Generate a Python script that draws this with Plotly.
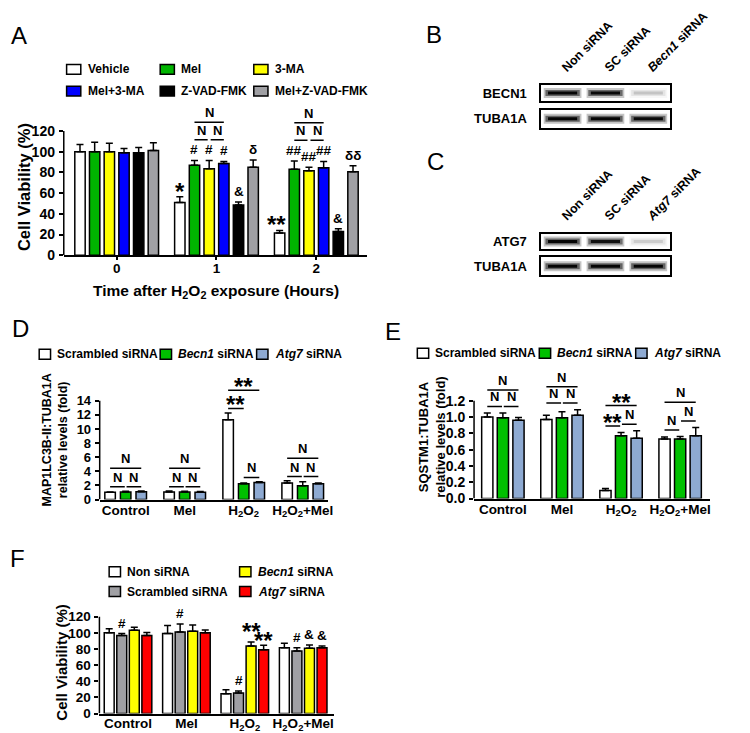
import plotly.graph_objects as go

W, H = 750, 733
FONT = "Liberation Sans, Arial, sans-serif"

# ---------------- A: cell viability after H2O2 (%) ----------------
a_hours = [0, 1, 2]
a_names = ["Vehicle", "Mel", "3-MA", "Mel+3-MA", "Z-VAD-FMK", "Mel+Z-VAD-FMK"]
a_colors = ["#ffffff", "#00b400", "#ffff00", "#0000ff", "#000000", "#a0a0a4"]
a_vehicle = [100, 51, 21.5]
a_mel = [100, 87, 83]
a_3ma = [100, 83.5, 81.5]
a_mel_3ma = [99, 88.5, 84.5]
a_zvad = [99, 48.5, 23]
a_mel_zvad = [101, 85, 80.5]
a_vehicle_sd = [7, 5.5, 2.5]
a_mel_sd = [9, 4.5, 8]
a_3ma_sd = [8, 8, 3.5]
a_mel_3ma_sd = [4, 2, 6]
a_zvad_sd = [5, 3, 2.5]
a_mel_zvad_sd = [7.5, 7, 6]

# ---------------- B / C: western blot band intensity (0-1) ----------------
b_lanes = ["Non siRNA", "SC siRNA", "<i>Becn1</i> siRNA"]
b_becn1 = [1.0, 0.95, 0.15]
b_tuba1a = [1.0, 1.0, 0.95]
c_lanes = ["Non siRNA", "SC siRNA", "<i>Atg7</i> siRNA"]
c_atg7 = [1.0, 0.9, 0.12]
c_tuba1a = [1.0, 1.0, 1.0]

# ---------------- D / E / F ----------------
treatments = ["Control", "Mel", "H<sub>2</sub>O<sub>2</sub>", "H<sub>2</sub>O<sub>2</sub>+Mel"]
sirna3 = ["Scrambled siRNA", "<i>Becn1</i> siRNA", "<i>Atg7</i> siRNA"]
sirna3_colors = ["#ffffff", "#00c000", "#8eaad2"]

d_scr = [1.03, 1.07, 11.3, 2.34]
d_becn1 = [1.07, 1.07, 2.24, 1.96]
d_atg7 = [1.12, 1.03, 2.43, 2.24]
d_scr_sd = [0.05, 0.15, 0.95, 0.32]
d_becn1_sd = [0.1, 0.1, 0.1, 0.56]
d_atg7_sd = [0.1, 0.12, 0.1, 0.1]

e_scr = [1.0, 0.97, 0.10, 0.73]
e_becn1 = [0.99, 0.99, 0.77, 0.73]
e_atg7 = [0.96, 1.02, 0.74, 0.77]
e_scr_sd = [0.05, 0.05, 0.025, 0.025]
e_becn1_sd = [0.06, 0.075, 0.04, 0.03]
e_atg7_sd = [0.035, 0.07, 0.09, 0.1]

sirna4 = ["Non siRNA", "Scrambled siRNA", "<i>Becn1</i> siRNA", "<i>Atg7</i> siRNA"]
sirna4_colors = ["#ffffff", "#a0a0a4", "#ffff00", "#ff0000"]
f_non = [100, 99, 24.5, 81.5]
f_scr = [96.5, 101, 25.5, 77.5]
f_becn1 = [103, 102, 83.5, 81]
f_atg7 = [96.5, 100, 79, 81.5]
f_non_sd = [5, 10, 5, 5.5]
f_scr_sd = [2.5, 10, 2.5, 4]
f_becn1_sd = [4, 7.5, 5, 4]
f_atg7_sd = [4, 3.5, 5.5, 2]


fig = go.Figure()
annos = []
shapes = []


def px_x(p):
    return p / W


def px_y(p):
    return 1 - p / H


def cx(g, i, n, step):
    return g + (i - (n - 1) / 2) * step


def add_bars(xa, ya, cats, means, sds, names, colors, step, width):
    n = len(means)
    for i in range(n):
        fig.add_trace(go.Bar(
            x=cats, y=means[i], name=names[i], showlegend=False,
            width=width, offset=(i - (n - 1) / 2) * step - width / 2,
            marker=dict(color=colors[i], line=dict(color="black", width=1.5)),
            error_y=dict(type="data", array=sds[i], arrayminus=[0] * len(cats),
                         symmetric=False, color="black", thickness=1.5, width=3.5),
            xaxis=xa, yaxis=ya))
    return [[m + s for m, s in zip(means[i], sds[i])] for i in range(n)]


def text(xa, ya, x, y, s, size=13, yshift=1, xshift=0):
    annos.append(dict(xref=xa, yref=ya, x=x, y=y, text=s, showarrow=False,
                      xanchor="center", yanchor="bottom", yshift=yshift, xshift=xshift,
                      font=dict(size=size)))


def star(xa, ya, x, y, s, yshift=-10, xshift=0):
    text(xa, ya, x, y, s, 24, yshift, xshift)


def bracket(xa, ya, x0, x1, y, s="N"):
    shapes.append(dict(type="line", xref=xa, yref=ya, x0=x0, x1=x1, y0=y, y1=y,
                       line=dict(color="black", width=1.5)))
    if s.startswith("*"):
        text(xa, ya, (x0 + x1) / 2, y, s, 24, -12)
    else:
        text(xa, ya, (x0 + x1) / 2, y, s, 13, 0)


def yline(xa, ya, top):
    shapes.append(dict(type="line", xref=xa + " domain", yref=ya, x0=0, x1=0, y0=0, y1=top,
                       line=dict(color="black", width=1.5)))


def legend_row(labels, colors, boxes, y_px, box_w=12):
    for label, color, b in zip(labels, colors, boxes):
        shapes.append(dict(type="rect", xref="paper", yref="paper",
                           x0=px_x(b), x1=px_x(b + box_w), y0=px_y(y_px + 5), y1=px_y(y_px - 5),
                           fillcolor=color, line=dict(color="black", width=1.5)))
        annos.append(dict(xref="paper", yref="paper", x=px_x(b + box_w + 5), y=px_y(y_px),
                          text=label, showarrow=False, xanchor="left", yanchor="middle",
                          font=dict(size=12)))


E = 0.015

# ---------------- panel A ----------------
a_step, a_w = 0.147, 0.104
a_top = add_bars("x", "y", a_hours,
                 [a_vehicle, a_mel, a_3ma, a_mel_3ma, a_zvad, a_mel_zvad],
                 [a_vehicle_sd, a_mel_sd, a_3ma_sd, a_mel_3ma_sd, a_zvad_sd, a_mel_zvad_sd],
                 a_names, a_colors, a_step, a_w)
for g, marks in [(1, ["*", "#", "#", "#", "&", "δ"]), (2, ["**", "##", "##", "##", "&", "δδ"])]:
    for i, s in enumerate(marks):
        if s.startswith("*"):
            star("x", "y", cx(g, i, 6, a_step), a_top[i][g], s, -10, -3 if len(s) > 1 else 0)
        else:
            text("x", "y", cx(g, i, 6, a_step), a_top[i][g], s, 13.5, 1)
    low = max(a_top[i][g] for i in (1, 2, 3)) + 20
    bracket("x", "y", cx(g, 1, 6, a_step), cx(g, 2, 6, a_step) - E, low)
    bracket("x", "y", cx(g, 2, 6, a_step) + E, cx(g, 3, 6, a_step), low)
    bracket("x", "y", cx(g, 1, 6, a_step), cx(g, 3, 6, a_step), low + 17)
yline("x", "y", 120)
legend_row(a_names[:3], a_colors[:3], [62, 161, 260], 62, 15)
legend_row(a_names[3:], a_colors[3:], [62, 161, 260], 84, 15)

# ---------------- panel D ----------------
d_step, d_w = 0.264, 0.178
cats4 = list(range(4))
d_top = add_bars("x6", "y6", cats4, [d_scr, d_becn1, d_atg7],
                 [d_scr_sd, d_becn1_sd, d_atg7_sd], sirna3, sirna3_colors, d_step, d_w)
for g in (0, 1, 3):
    low = max(d_top[i][g] for i in range(3)) + 0.6
    bracket("x6", "y6", cx(g, 0, 3, d_step), cx(g, 1, 3, d_step) - E, low)
    bracket("x6", "y6", cx(g, 1, 3, d_step) + E, cx(g, 2, 3, d_step), low)
    bracket("x6", "y6", cx(g, 0, 3, d_step), cx(g, 2, 3, d_step), low + 2.6)
n_y = max(d_top[1][2], d_top[2][2]) + 0.6
bracket("x6", "y6", cx(2, 1, 3, d_step), cx(2, 2, 3, d_step), n_y)
s_y = d_top[0][2] + 0.65
bracket("x6", "y6", cx(2, 0, 3, d_step), cx(2, 1, 3, d_step), s_y, "**")
bracket("x6", "y6", cx(2, 0, 3, d_step), cx(2, 2, 3, d_step), s_y + 2.6, "**")
yline("x6", "y6", 14)
legend_row(sirna3, sirna3_colors, [33, 161, 263], 350)

# ---------------- panel E ----------------
e_step, e_w = 0.264, 0.19
e_top = add_bars("x7", "y7", cats4, [e_scr, e_becn1, e_atg7],
                 [e_scr_sd, e_becn1_sd, e_atg7_sd], sirna3, sirna3_colors, e_step, e_w)
for g in (0, 1):
    low = max(e_top[i][g] for i in range(3)) + 0.08
    bracket("x7", "y7", cx(g, 0, 3, e_step), cx(g, 1, 3, e_step) - E, low)
    bracket("x7", "y7", cx(g, 1, 3, e_step) + E, cx(g, 2, 3, e_step), low)
    bracket("x7", "y7", cx(g, 0, 3, e_step), cx(g, 2, 3, e_step), low + 0.2)
for g, left, up in [(2, "**", "**"), (3, "N", "N")]:
    y1 = max(e_top[0][g], e_top[1][g]) + 0.08
    y2 = max(e_top[1][g], e_top[2][g]) + 0.08
    bracket("x7", "y7", cx(g, 0, 3, e_step), cx(g, 1, 3, e_step) - E, y1, left)
    bracket("x7", "y7", cx(g, 1, 3, e_step) + E, cx(g, 2, 3, e_step), y2)
    bracket("x7", "y7", cx(g, 0, 3, e_step), cx(g, 2, 3, e_step), max(y1, y2) + 0.23, up)
yline("x7", "y7", 1.2)
legend_row(sirna3, sirna3_colors, [433, 562, 664], 349)

# ---------------- panel F ----------------
f_step, f_w = 0.215, 0.17
f_top = add_bars("x8", "y8", cats4, [f_non, f_scr, f_becn1, f_atg7],
                 [f_non_sd, f_scr_sd, f_becn1_sd, f_atg7_sd], sirna4, sirna4_colors,
                 f_step, f_w)
for g in range(4):
    text("x8", "y8", cx(g, 1, 4, f_step), f_top[1][g], "#", 13.5, 1)
star("x8", "y8", cx(2, 2, 4, f_step), f_top[2][2], "**", -5)
star("x8", "y8", cx(2, 3, 4, f_step), f_top[3][2], "**", -11)
text("x8", "y8", cx(3, 2, 4, f_step), f_top[2][3], "&", 13.5, 1)
text("x8", "y8", cx(3, 3, 4, f_step), f_top[3][3], "&", 13.5, 1)
yline("x8", "y8", 120)
legend_row([sirna4[0], sirna4[2]], [sirna4_colors[0], sirna4_colors[2]], [107, 245], 570)
legend_row([sirna4[1], sirna4[3]], [sirna4_colors[1], sirna4_colors[3]], [107, 245], 590)

# ---------------- panels B / C: blots ----------------
blots = [("x2", "y2", b_becn1), ("x3", "y3", b_tuba1a), ("x4", "y4", c_atg7), ("x5", "y5", c_tuba1a)]
for xa, ya, levels in blots:
    for lane, a in enumerate(levels):
        fig.add_trace(go.Scatter(x=[lane - 0.44, lane + 0.44], y=[0.5, 0.5], mode="lines",
                                 line=dict(color="rgba(60,60,60,%.2f)" % (0.3 * a), width=10),
                                 xaxis=xa, yaxis=ya, showlegend=False, hoverinfo="skip"))
        fig.add_trace(go.Scatter(x=[lane - 0.4, lane + 0.4], y=[0.5, 0.5], mode="lines",
                                 line=dict(color="rgba(20,20,20,%.2f)" % (0.55 * a), width=6),
                                 xaxis=xa, yaxis=ya, showlegend=False, hoverinfo="skip"))
        fig.add_trace(go.Scatter(x=[lane - 0.34, lane + 0.34], y=[0.5, 0.5], mode="lines",
                                 line=dict(color="rgba(0,0,0,%.2f)" % (0.95 * a), width=3),
                                 xaxis=xa, yaxis=ya, showlegend=False, hoverinfo="skip"))


# ---------------- layout ----------------
def bar_x(ya, left, right, rng, tickvals, ticktext, ticks=""):
    return dict(domain=[px_x(left), px_x(right)], range=rng, anchor=ya, showline=True,
                linecolor="black", linewidth=1.5, ticks=ticks, ticklen=3, tickwidth=1.5,
                tickcolor="black", tickvals=tickvals, ticktext=ticktext, showgrid=False,
                zeroline=False, tickfont=dict(size=13.5), fixedrange=True,
                ticklabelstandoff=-3)


def bar_y(xa, zero_px, top_px, rng, tickvals, fmt=None, size=13.5):
    d = dict(domain=[px_y(zero_px), px_y(top_px)], range=rng, anchor=xa, showline=False,
             ticks="outside", ticklen=4, tickwidth=1.5, tickcolor="black", tickvals=tickvals,
             showgrid=False, zeroline=False, tickfont=dict(size=size), ticklabelstandoff=1)
    if fmt:
        d["tickformat"] = fmt
    return d


def blot_x(ya, labels=None):
    d = dict(domain=[px_x(564), px_x(700)], range=[-0.5, 2.5], anchor=ya, showline=True,
             mirror=True, linecolor="black", linewidth=1.5, showgrid=False, zeroline=False,
             ticks="", showticklabels=False)
    if labels:
        d.update(side="top", showticklabels=True, tickvals=[0, 1, 2], ticktext=labels,
                 tickangle=-45, tickfont=dict(size=12.5), ticklabelstandoff=4)
    return d


def blot_y(xa, top_px, bottom_px, label):
    return dict(domain=[px_y(bottom_px), px_y(top_px)], range=[0, 1], anchor=xa, showline=True,
                mirror=True, linecolor="black", linewidth=1.5, showgrid=False, zeroline=False,
                ticks="", tickvals=[0.5], ticktext=[label], tickfont=dict(size=13),
                ticklabelstandoff=10)


letters = [("A", 12, 28), ("B", 451, 27), ("C", 452, 155), ("D", 13, 324), ("E", 407, 327), ("F", 10, 557)]
for s, x, y in letters:
    annos.append(dict(xref="paper", yref="paper", x=px_x(x), y=px_y(y), text=s, showarrow=False,
                      xanchor="center", yanchor="middle", font=dict(size=24, weight="normal")))

titles = [
    ("Cell Viability (%)", 17, 181, -90, 16.5),
    ("Time after H<sub>2</sub>O<sub>2</sub> exposure (Hours)", 220, 287, 0, 15.5),
    ("MAP1LC3B-II:TUBA1A<br>relative levels (fold)", 50, 437, -90, 12.5),
    ("SQSTM1:TUBA1A<br>relative levels (fold)", 449, 434, -90, 13),
    ("Cell Viability (%)", 57, 662, -90, 15),
]
for s, x, y, ang, size in titles:
    annos.append(dict(xref="paper", yref="paper", x=px_x(x), y=px_y(y), text=s, showarrow=False,
                      xanchor="center", yanchor="middle", textangle=ang, font=dict(size=size)))

fig.update_layout(
    width=W, height=H, margin=dict(l=0, r=0, t=0, b=0),
    paper_bgcolor="white", plot_bgcolor="white", barmode="overlay", showlegend=False,
    font=dict(family=FONT, size=13, color="black", weight="bold"),
    xaxis=bar_x("y", 59, 380, [-0.53, 2.51], a_hours, [str(h) for h in a_hours], "outside"),
    yaxis=bar_y("x", 250, 98.1, [0, 145], list(range(0, 121, 20)), size=14),
    xaxis2=blot_x("y2", b_lanes), yaxis2=blot_y("x2", 78, 94, "BECN1"),
    xaxis3=blot_x("y3"), yaxis3=blot_y("x3", 103, 121, "TUBA1A"),
    xaxis4=blot_x("y4", c_lanes), yaxis4=blot_y("x4", 228, 244, "ATG7"),
    xaxis5=blot_x("y5"), yaxis5=blot_y("x5", 252, 270, "TUBA1A"),
    xaxis6=bar_x("y6", 97, 338, [-0.44, 3.42], cats4, treatments),
    yaxis6=bar_y("x6", 497, 368.5, [0, 18], list(range(0, 15, 2)), size=13),
    xaxis7=bar_x("y7", 493, 743, [-0.488, 3.512], cats4, treatments),
    yaxis7=bar_y("x7", 496, 364, [0, 1.6], [0, 0.2, 0.4, 0.6, 0.8, 1.0, 1.2], ".1f", 14),
    xaxis8=bar_x("y8", 96.7, 345, [-0.49, 3.53], cats4, treatments),
    yaxis8=bar_y("x8", 713.3, 607.2, [0, 130], list(range(0, 121, 20))),
    annotations=annos, shapes=shapes,
)

fig.write_html("out.html")
